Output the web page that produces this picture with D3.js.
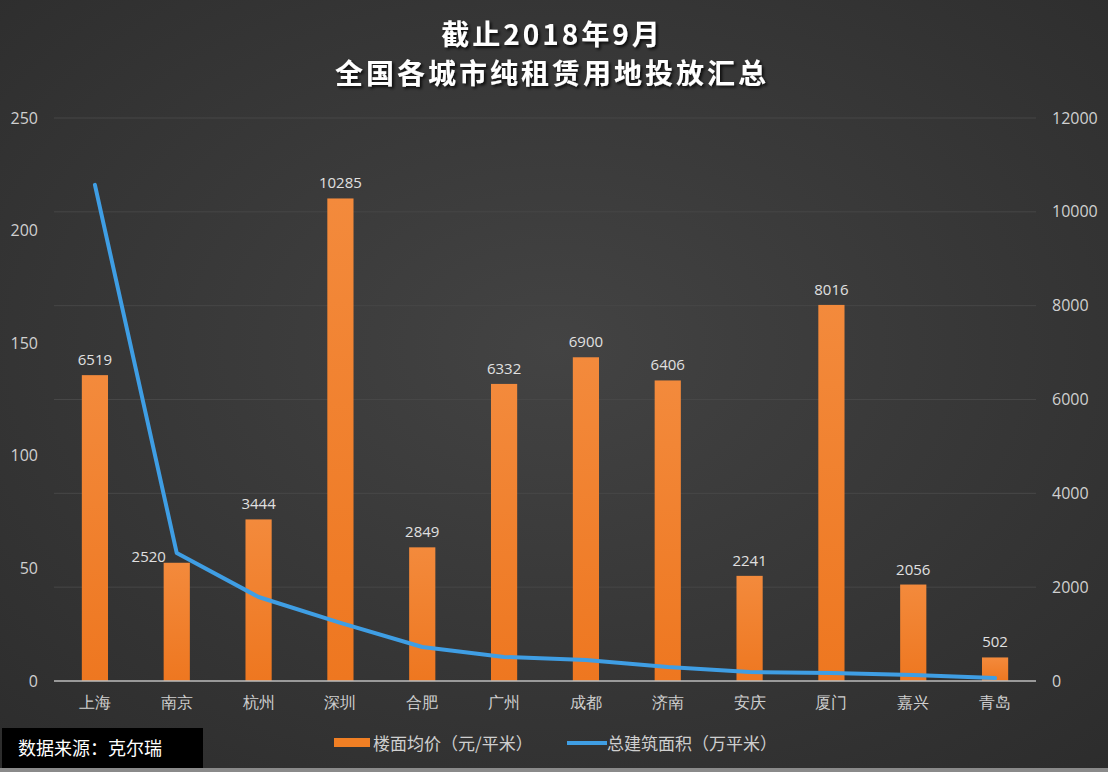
<!DOCTYPE html>
<html><head><meta charset="utf-8">
<script src="https://cdn.jsdelivr.net/npm/d3@7"></script>
<style>
html,body{margin:0;padding:0;background:#333;}
svg{display:block;font-family:"Noto Sans CJK SC","Noto Sans",sans-serif;}
</style></head>
<body>
<svg id="chart" width="1108" height="772"></svg>
<script>
const categories = ["上海","南京","杭州","深圳","合肥","广州","成都","济南","安庆","厦门","嘉兴","青岛"];
const priceValues = [6519,2520,3444,10285,2849,6332,6900,6406,2241,8016,2056,502];
const areaValues = [220.3,56.8,37.3,25.8,15.1,10.7,9.3,6.2,4.0,3.6,2.7,1.3];
const leftTicks = [0,50,100,150,200,250];
const rightTicks = [0,2000,4000,6000,8000,10000,12000];
const titleLines = ["截止2018年9月","全国各城市纯租赁用地投放汇总"];
const legendLabels = ["楼面均价（元/平米）","总建筑面积（万平米）"];
const sourceText = "数据来源：克尔瑞";

const W = 1108, H = 772;
const svg = d3.select("#chart");
const defs = svg.append("defs");

const bg = defs.append("radialGradient").attr("id","bg").attr("cx","50%").attr("cy","45%").attr("r","75%");
bg.append("stop").attr("offset","0%").attr("stop-color","#434343");
bg.append("stop").attr("offset","100%").attr("stop-color","#2c2c2c");
const bar = defs.append("linearGradient").attr("id","bar").attr("x1","0").attr("y1","0").attr("x2","0").attr("y2","1");
bar.append("stop").attr("offset","0%").attr("stop-color","#f38a3c");
bar.append("stop").attr("offset","100%").attr("stop-color","#ee7720");
const sh = defs.append("filter").attr("id","shadow").attr("x","-10%").attr("y","-30%").attr("width","120%").attr("height","160%");
sh.append("feDropShadow").attr("dx",2).attr("dy",2).attr("stdDeviation",1.5).attr("flood-color","#000").attr("flood-opacity",0.8);

svg.append("rect").attr("width",W).attr("height",H).attr("fill","url(#bg)");
svg.append("rect").attr("x",0).attr("y",H-4).attr("width",W).attr("height",4).attr("fill","#8a8a8a");

const plotL = 54, plotR = 1036, plotT = 118, plotB = 681;
const x = d3.scaleBand().domain(categories).range([plotL, plotR]).paddingInner(0.68).paddingOuter(0.34);
const yL = d3.scaleLinear().domain([0,250]).range([plotB, plotT]);
const yR = d3.scaleLinear().domain([0,12000]).range([plotB, plotT]);

// gridlines
svg.append("g").selectAll("line").data(rightTicks.filter(d=>d>0)).join("line")
  .attr("x1",plotL).attr("x2",plotR).attr("y1",d=>yR(d)).attr("y2",d=>yR(d))
  .attr("stroke","#474747").attr("stroke-width",1);

const numFont = "'Open Sans','Noto Sans',sans-serif";
// left axis
const axL = svg.append("g").attr("transform",`translate(${plotL-16},0)`)
  .call(d3.axisLeft(yL).tickValues(leftTicks).tickSize(0).tickPadding(0));
axL.select(".domain").remove();
axL.selectAll("text").attr("fill","#d0d0d0").style("font-size","16px").style("font-family",numFont);

// right axis
const axR = svg.append("g").attr("transform",`translate(${plotR+16},0)`)
  .call(d3.axisRight(yR).tickValues(rightTicks).tickSize(0).tickPadding(0).tickFormat(d3.format("d")));
axR.select(".domain").remove();
axR.selectAll("text").attr("fill","#d0d0d0").style("font-size","16px").style("font-family",numFont);

// bars
svg.append("g").selectAll("rect").data(priceValues).join("rect")
  .attr("x",(d,i)=>x(categories[i])).attr("width",x.bandwidth())
  .attr("y",d=>yR(d)).attr("height",d=>plotB-yR(d))
  .attr("fill","url(#bar)");

// bar labels (the 南京 label is nudged left, clear of the line)
const labelShift = (i)=> categories[i]==="南京" ? {dx:-28, dy:9} : {dx:0, dy:0};
svg.append("g").selectAll("text").data(priceValues).join("text")
  .attr("x",(d,i)=>x(categories[i])+x.bandwidth()/2+labelShift(i).dx)
  .attr("y",(d,i)=>yR(d)-10+labelShift(i).dy)
  .attr("text-anchor","middle").attr("fill","#e0e0e0")
  .style("font-size","15px").style("font-family",numFont)
  .text(d=>d);

// baseline
svg.append("line").attr("x1",plotL).attr("x2",plotR).attr("y1",plotB).attr("y2",plotB)
  .attr("stroke","#bdbdbd").attr("stroke-width",1.5);

// line
const line = d3.line().x((d,i)=>x(categories[i])+x.bandwidth()/2).y(d=>yL(d));
svg.append("path").datum(areaValues).attr("d",line).attr("fill","none")
  .attr("stroke","#3f9ee4").attr("stroke-width",4).attr("stroke-linejoin","round").attr("stroke-linecap","round");

// category labels
const axB = svg.append("g").attr("transform",`translate(0,${plotB+8})`)
  .call(d3.axisBottom(x).tickSize(0).tickPadding(8));
axB.select(".domain").remove();
axB.selectAll("text").attr("fill","#cfcfcf").style("font-size","16px");

// title
svg.append("g").selectAll("text").data(titleLines).join("text")
  .attr("x",552).attr("y",(d,i)=>45+i*39).attr("text-anchor","middle")
  .attr("fill","#ffffff").attr("filter","url(#shadow)")
  .style("font-size","28px").style("font-weight","bold").style("letter-spacing","3px")
  .text(d=>d);

// legend
const lg = svg.append("g");
lg.append("rect").attr("x",334).attr("y",738).attr("width",36).attr("height",9).attr("fill","#f07f24");
lg.append("text").attr("x",373).attr("y",750).attr("fill","#cfcfcf").style("font-size","17px").text(legendLabels[0]);
lg.append("line").attr("x1",567).attr("x2",607).attr("y1",743).attr("y2",743).attr("stroke","#3f9ee4").attr("stroke-width",4);
lg.append("text").attr("x",607).attr("y",750).attr("fill","#cfcfcf").style("font-size","17px").text(legendLabels[1]);

// source box
svg.append("rect").attr("x",2).attr("y",728).attr("width",201).attr("height",40).attr("fill","#000");
svg.append("text").attr("x",18).attr("y",755).attr("fill","#ffffff").style("font-size","18px").text(sourceText);
</script>
</body></html>
